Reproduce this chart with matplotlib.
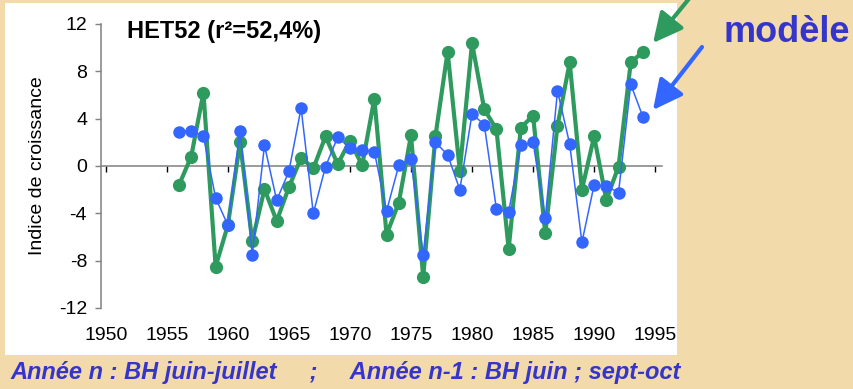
import matplotlib.pyplot as plt
from matplotlib.patches import Rectangle

plt.rcParams['font.family'] = ['Liberation Sans', 'DejaVu Sans']
plt.rcParams['axes.unicode_minus'] = False

# Growth index series, one value per year
years = list(range(1956, 1995))
observed = [-1.6, 0.8, 6.2, -8.5, -5.0, 2.0, -6.35, -1.95, -4.65, -1.8,
            0.7, -0.2, 2.5, 0.15, 2.15, 0.05, 5.7, -5.8, -3.1, 2.6,
            -9.4, 2.5, 9.65, -0.4, 10.4, 4.8, 3.1, -7.0, 3.25, 4.25,
            -5.7, 3.4, 8.75, -2.0, 2.5, -2.85, -0.05, 8.75, 9.65]
model = [2.9, 3.0, 2.5, -2.7, -5.0, 3.0, -7.5, 1.75, -2.9, -0.45,
         4.9, -4.0, -0.05, 2.45, 1.5, 1.35, 1.2, -3.8, 0.05, 0.55,
         -7.5, 2.0, 0.95, -2.0, 4.4, 3.5, -3.65, -3.9, 1.75, 2.0,
         -4.4, 6.35, 1.85, -6.45, -1.6, -1.7, -2.25, 6.9, 4.15]
x_ticks = [1950, 1955, 1960, 1965, 1970, 1975, 1980, 1985, 1990, 1995]
y_ticks = [-12, -8, -4, 0, 4, 8, 12]

green = '#2E9A5E'
blue = '#3366FF'
dark_blue = '#3535CC'
grey = '#808080'

W, H = 854, 389
fig = plt.figure(figsize=(W / 100, H / 100), dpi=100)
fig.patch.set_facecolor('#F3DAAB')

# white chart panel, kept behind everything else
fig.patches.append(Rectangle((5 / W, 1 - 355 / H), 672 / W, 352 / H,
                             transform=fig.transFigure, facecolor='white',
                             edgecolor='none', zorder=-10))

ax = fig.add_axes([101 / W, 1 - 308 / H, 561 / W, 284 / H])
ax.set_facecolor('none')
ax.set_zorder(2)

ax.plot(years, observed, color=green, lw=3, marker='o', ms=9.5,
        markeredgewidth=0, zorder=3)
ax.plot(years, model, color=blue, lw=1.1, marker='o', ms=9,
        markeredgewidth=0, zorder=4)

ax.set_xlim(1949.61, 1995.56)
ax.set_ylim(-12, 12)

for s in ['top', 'right']:
    ax.spines[s].set_visible(False)
ax.spines['left'].set_color(grey)
ax.spines['left'].set_linewidth(1.1)
ax.spines['bottom'].set_position(('data', 0))
ax.spines['bottom'].set_color(grey)
ax.spines['bottom'].set_linewidth(1.1)

ax.set_xticks(x_ticks)
ax.tick_params(axis='x', direction='out', length=4, width=1, color='black',
               labelbottom=False)
ax.set_yticks(y_ticks)
ax.set_yticklabels([str(v) for v in y_ticks])
ax.tick_params(axis='y', direction='out', length=4, width=1, color=grey,
               labelsize=14, pad=6)

# year labels sit under the plot, away from the zero axis
sec = ax.secondary_xaxis('bottom')
sec.spines['bottom'].set_visible(False)
sec.set_xticks(x_ticks)
sec.set_xticklabels([str(v) for v in x_ticks])
sec.tick_params(length=0, labelsize=14, pad=14)

ax.text(0.046, 0.975, 'HET52 (r²=52,4%)', transform=ax.transAxes,
        fontsize=17, fontweight='bold', va='center', ha='left')

fig.text(38 / W, 1 - 166 / H, 'Indice de croissance', rotation=90,
         fontsize=14, va='center', ha='center')

fig.text(787 / W, 1 - 33 / H, 'modèle', color=dark_blue, fontsize=26,
         fontweight='bold', va='center', ha='center')

arrow = '-|>,head_length=1.0,head_width=0.5'
ax.annotate('', xy=(653 / W, 1 - 43 / H), xycoords='figure fraction',
            xytext=(692 / W, 1 + 5 / H), textcoords='figure fraction',
            arrowprops=dict(arrowstyle=arrow, color=green, lw=3,
                            mutation_scale=18, shrinkA=0, shrinkB=0),
            annotation_clip=False)
ax.annotate('', xy=(653 / W, 1 - 110 / H), xycoords='figure fraction',
            xytext=(702 / W, 1 - 47 / H), textcoords='figure fraction',
            arrowprops=dict(arrowstyle=arrow, color=blue, lw=3,
                            mutation_scale=18, shrinkA=0, shrinkB=0),
            annotation_clip=False)

fig.text(10 / W, 1 - 373 / H,
         'Année n : BH juin-juillet     ;     Année n-1 : BH juin ; sept-oct',
         color=dark_blue, fontsize=17, fontweight='bold', style='italic',
         va='center', ha='left')

fig.savefig('out.png', dpi=100, facecolor=fig.get_facecolor())
